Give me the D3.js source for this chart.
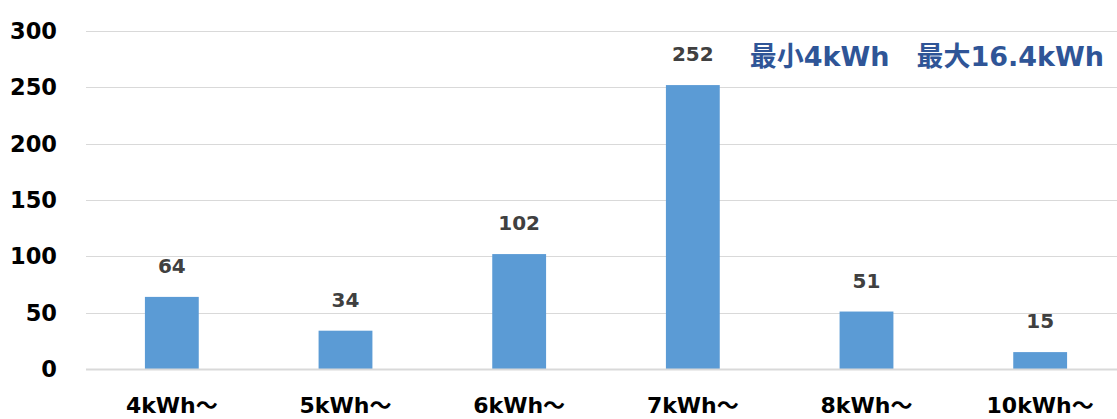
<!DOCTYPE html>
<html>
<head>
<meta charset="utf-8">
<script src="https://cdn.jsdelivr.net/npm/d3@7"></script>
<style>
  html, body { margin: 0; padding: 0; background: #fff; }
  svg { display: block; }
  text { font-family: "DejaVu Sans", Verdana, "Noto Sans CJK JP", sans-serif; font-weight: bold; }
</style>
</head>
<body>
<svg id="chart" width="1117" height="419"></svg>
<script>
// Distribution of capacities (count per bucket)
const categories = ["4kWh～", "5kWh～", "6kWh～", "7kWh～", "8kWh～", "10kWh～"];
const counts = [64, 34, 102, 252, 51, 15];
const yTicks = [0, 50, 100, 150, 200, 250, 300];
const note = "最小4kWh\u3000最大16.4kWh";

const svg = d3.select("#chart");
const W = 1117, H = 419;

const x = d3.scaleBand().domain(categories).range([85, 1127]).paddingInner(0.69).paddingOuter(0.345);
const y = d3.scaleLinear().domain([0, 300]).range([369, 31]);

// horizontal gridlines
svg.append("g").selectAll("line").data(yTicks.filter(d => d > 0)).join("line")
  .attr("x1", 86).attr("x2", W)
  .attr("y1", d => Math.round(y(d)) + 0.5).attr("y2", d => Math.round(y(d)) + 0.5)
  .attr("stroke", "#d9d9d9").attr("stroke-width", 1);

// y-axis labels
svg.append("g").selectAll("text").data(yTicks).join("text")
  .attr("x", 57).attr("y", d => y(d) + 8)
  .attr("text-anchor", "end")
  .attr("font-size", 22.5)
  .attr("fill", "#000")
  .text(d => d);

// bars
svg.append("g").selectAll("rect").data(counts).join("rect")
  .attr("x", (d, i) => x(categories[i]))
  .attr("width", x.bandwidth())
  .attr("y", d => y(d))
  .attr("height", d => y(0) - y(d))
  .attr("fill", "#5b9bd5");

// baseline
svg.append("line")
  .attr("x1", 86).attr("x2", W)
  .attr("y1", y(0) + 0.5).attr("y2", y(0) + 0.5)
  .attr("stroke", "#d9d9d9").attr("stroke-width", 2);

// value labels
svg.append("g").selectAll("text").data(counts).join("text")
  .attr("x", (d, i) => x(categories[i]) + x.bandwidth() / 2)
  .attr("y", d => y(d) - 24)
  .attr("text-anchor", "middle")
  .attr("font-size", 20)
  .attr("fill", "#404040")
  .text(d => d);

// category labels
svg.append("g").selectAll("text").data(categories).join("text")
  .attr("x", d => x(d) + x.bandwidth() / 2)
  .attr("y", 413)
  .attr("text-anchor", "middle")
  .attr("font-size", 22)
  .attr("fill", "#000")
  .text(d => d);

// min / max note
svg.append("text")
  .attr("x", 1104).attr("y", 66)
  .attr("text-anchor", "end")
  .attr("font-size", 27)
  .attr("fill", "#2f5597")
  .text(note);
</script>
</body>
</html>
